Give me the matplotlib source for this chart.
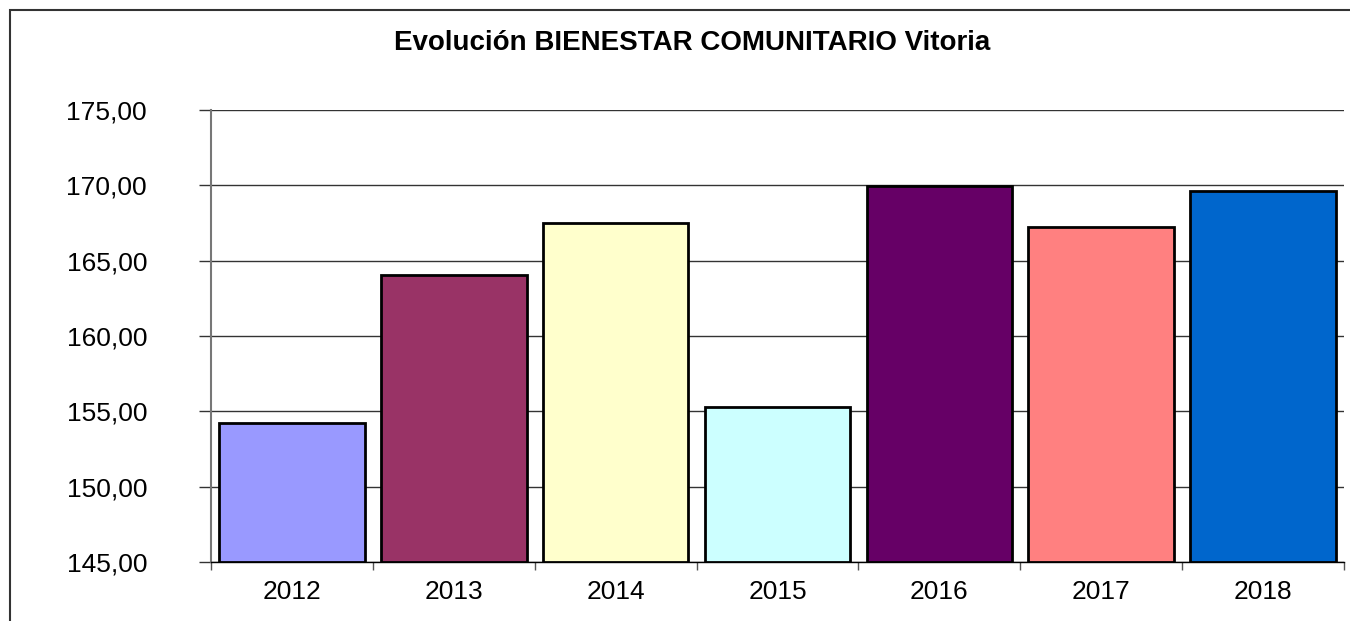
import matplotlib.pyplot as plt
from matplotlib.patches import Rectangle
from matplotlib.ticker import FixedLocator, FuncFormatter

years = ["2012", "2013", "2014", "2015", "2016", "2017", "2018"]
values = [154.22, 164.05, 167.5, 155.29, 169.95, 167.23, 169.62]
colors = ["#9999FF", "#993366", "#FFFFCC", "#CCFFFF", "#660066", "#FF8080", "#0066CC"]
y_ticks = [145, 150, 155, 160, 165, 170, 175]

plt.rcParams['font.family'] = ['Liberation Sans', 'DejaVu Sans']

fig = plt.figure(figsize=(13.5, 6.21), dpi=100)
ax = fig.add_axes([211 / 1350, 1 - 562 / 621, 1133 / 1350, 452 / 621])

# outer chart frame (cut off at right and bottom)
fig.patches.append(Rectangle((10 / 1350, -0.1), 1.2, 1 - 10 / 621 + 0.1,
                             transform=fig.transFigure, fill=False,
                             edgecolor="#333333", linewidth=1.5))

x = list(range(len(years)))
ax.bar(x, [v - 145 for v in values], bottom=145, width=0.9,
       color=colors, edgecolor="black", linewidth=2, zorder=3)

ax.set_xlim(-0.5, len(years) - 0.5)
ax.set_ylim(145, 175)
ax.set_yticks(y_ticks)
ax.yaxis.set_major_formatter(FuncFormatter(lambda v, p: f"{v:.2f}".replace(".", ",")))
ax.grid(axis="y", color="#333333", linewidth=1, zorder=0)

ax.set_xticks(x)
ax.set_xticklabels(years)
ax.xaxis.set_minor_locator(FixedLocator([i - 0.5 for i in range(len(years) + 1)]))
ax.tick_params(axis="x", which="major", length=0, pad=13, labelsize=19)
ax.tick_params(axis="x", which="minor", length=6, width=1, color="#555555")
ax.tick_params(axis="y", length=9, width=1, color="#333333", pad=37, labelsize=19)

for s in ["top", "right"]:
    ax.spines[s].set_visible(False)
ax.spines["left"].set_color("#777777")
ax.spines["left"].set_linewidth(1.5)
ax.spines["bottom"].set_color("black")
ax.spines["bottom"].set_linewidth(1)

fig.text(692 / 1350, 1 - 43 / 621, "Evolución BIENESTAR COMUNITARIO Vitoria",
         ha="center", va="center", fontsize=20, fontweight="bold")

fig.savefig("out.png", dpi=100)
